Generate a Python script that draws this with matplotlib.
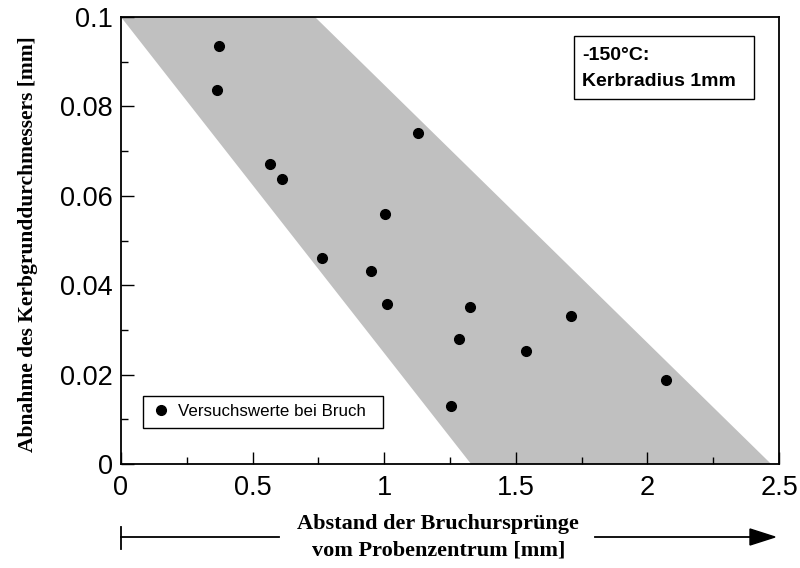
import matplotlib
matplotlib.use("Agg")
import matplotlib.pyplot as plt
from matplotlib.patches import Rectangle, Polygon
from matplotlib.ticker import MultipleLocator

# Data
x_vals = [0.372, 0.365, 0.566, 0.612, 1.128, 1.003, 0.764, 0.950, 1.010,
          1.326, 1.284, 1.539, 1.710, 1.254, 2.070]
y_vals = [0.0935, 0.0837, 0.0671, 0.0638, 0.0740, 0.0559, 0.0461, 0.0432, 0.0358,
          0.0351, 0.0280, 0.0253, 0.0331, 0.0130, 0.0188]
band_x = [0.0, 0.737, 2.47, 1.33]
band_y = [0.1, 0.1, 0.0, 0.0]
xticks = [0, 0.5, 1, 1.5, 2, 2.5]
xticklabels = ["0", "0.5", "1", "1.5", "2", "2.5"]
yticks = [0, 0.02, 0.04, 0.06, 0.08, 0.1]
yticklabels = ["0", "0.02", "0.04", "0.06", "0.08", "0.1"]

W, H = 800, 568
fig = plt.figure(figsize=(8, 5.68), dpi=100)
L, R, T, B = 121, 779, 17, 464
ax = fig.add_axes([L / W, 1 - B / H, (R - L) / W, (B - T) / H])

ax.add_patch(Polygon(list(zip(band_x, band_y)), closed=True, facecolor="#c0c0c0",
                     edgecolor="none", zorder=1))
ax.plot(x_vals, y_vals, "o", color="black", ms=7, zorder=3,
        label="Versuchswerte bei Bruch")

ax.set_xlim(0, 2.5)
ax.set_ylim(0, 0.1)
ax.set_xticks(xticks)
ax.set_xticklabels(xticklabels)
ax.set_yticks(yticks)
ax.set_yticklabels(yticklabels)
ax.xaxis.set_minor_locator(MultipleLocator(0.25))
ax.yaxis.set_minor_locator(MultipleLocator(0.01))
ax.tick_params(which="both", direction="in", top=False, right=False,
               labelsize=19.5, width=1)
ax.tick_params(axis="x", pad=8)
ax.tick_params(axis="y", pad=6)
ax.tick_params(which="major", length=9)
ax.tick_params(which="minor", length=5)
for lab in ax.get_xticklabels() + ax.get_yticklabels():
    lab.set_family("Liberation Sans")
for s in ax.spines.values():
    s.set_linewidth(1.3)
    s.set_zorder(4)

leg = ax.legend(loc="lower left", bbox_to_anchor=(0.033, 0.081, 0.365, 0.082),
                mode="expand", fancybox=False, edgecolor="black", framealpha=1,
                prop={"family": "Liberation Sans", "size": 12.2}, handletextpad=0.4,
                borderaxespad=0, handlelength=1.2, borderpad=0.5)
leg.get_frame().set_linewidth(1.0)

# info box
bx0, bx1 = (574 - L) / (R - L), (754 - L) / (R - L)
by0, by1 = (B - 99) / (B - T), (B - 36) / (B - T)
ax.add_patch(Rectangle((bx0, by0), bx1 - bx0, by1 - by0, transform=ax.transAxes,
                       facecolor="white", edgecolor="black", lw=1.0, zorder=5))
ax.text((582 - L) / (R - L), (B - 55) / (B - T), "-150°C:", transform=ax.transAxes,
        ha="left", va="center", fontsize=14, fontweight="bold",
        family="Liberation Sans", zorder=6)
ax.text((582 - L) / (R - L), (B - 81) / (B - T), "Kerbradius 1mm", transform=ax.transAxes,
        ha="left", va="center", fontsize=14, fontweight="bold",
        family="Liberation Sans", zorder=6)

# labels
fig.text(28 / W, 1 - 244 / H, "Abnahme des Kerbgrunddurchmessers [mm]", rotation=90,
         ha="center", va="center", fontsize=15.5, fontweight="bold", family="Liberation Serif")
fig.text(438 / W, 1 - 524 / H, "Abstand der Bruchursprünge", ha="center", va="center",
         fontsize=16, fontweight="bold", family="Liberation Serif")
fig.text(439 / W, 1 - 550 / H, "vom Probenzentrum [mm]", ha="center", va="center",
         fontsize=16, fontweight="bold", family="Liberation Serif")

# arrow decoration
ya = 1 - 537 / H
fig.add_artist(plt.Line2D([121 / W, 279 / W], [ya, ya], color="black", lw=1.3))
fig.add_artist(plt.Line2D([121 / W, 121 / W], [1 - 527 / H, 1 - 549 / H], color="black", lw=1.3))
fig.add_artist(plt.Line2D([595 / W, 752 / W], [ya, ya], color="black", lw=1.3))
fig.add_artist(Polygon([(750 / W, 1 - 529 / H), (775 / W, ya), (750 / W, 1 - 545 / H)],
                       closed=True, facecolor="black", edgecolor="black",
                       transform=fig.transFigure))

fig.savefig("out.png", dpi=100)
